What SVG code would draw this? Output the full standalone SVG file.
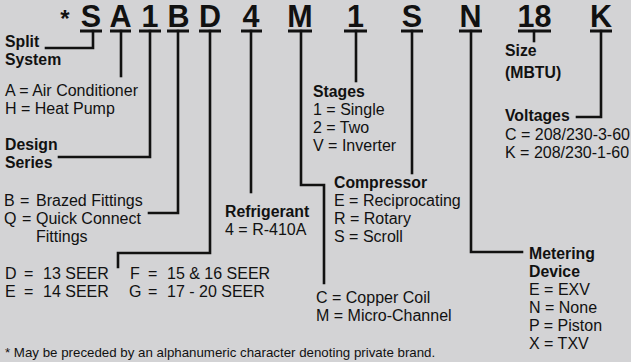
<svg xmlns="http://www.w3.org/2000/svg" width="631" height="362" viewBox="0 0 631 362">
<style>
.bg{fill:#d3d3d5}
.code{font-family:"Liberation Sans",Arial,sans-serif;font-weight:bold;font-size:30.5px;fill:#111;text-anchor:middle}
.t{font-family:"Liberation Sans",Arial,sans-serif;font-size:16px;fill:#111}
.b{font-family:"Liberation Sans",Arial,sans-serif;font-size:15.8px;font-weight:bold;fill:#111}
.fn{font-family:"Liberation Sans",Arial,sans-serif;font-size:13.3px;fill:#111}
.ul{stroke:#111;stroke-width:3;fill:none}
.ln{stroke:#111;stroke-width:2.6;fill:none;stroke-linejoin:miter;stroke-linecap:square}
</style>
<rect class="bg" x="0" y="0" width="631" height="362"/>
<g id="code">
<text x="65" y="27" class="code" style="font-size:24px">*</text>
<text x="91" y="27" class="code">S</text>
<text x="120.5" y="27" class="code">A</text>
<text x="150" y="27" class="code">1</text>
<text x="178.5" y="27" class="code">B</text>
<text x="210" y="27" class="code">D</text>
<text x="251" y="27" class="code">4</text>
<text x="300" y="27" class="code">M</text>
<text x="355.5" y="27" class="code">1</text>
<text x="412" y="27" class="code">S</text>
<text x="470.5" y="27" class="code">N</text>
<text x="534.5" y="27" class="code">18</text>
<text x="601" y="27" class="code">K</text>
<path class="ul" d="M80 31H102M110 31H131M139 31H161M167 31H189M199 31H221M241 31H262M288 31H312M344 31H367M401 31H423M459 31H482M518 31H551M590 31H612"/>
</g>
<g id="connectors">
<path class="ln" d="M93 31V48H46"/>
<path class="ln" d="M121 31V76"/>
<path class="ln" d="M150 31V157H59"/>
<path class="ln" d="M178 31V213H149"/>
<path class="ln" d="M210 31V253H118V267"/>
<path class="ln" d="M251 31V192"/>
<path class="ln" d="M301 31V185H324V283"/>
<path class="ln" d="M356 31V81"/>
<path class="ln" d="M412 31V173"/>
<path class="ln" d="M471 31V252H522"/>
<path class="ln" d="M534 31V41"/>
<path class="ln" d="M601 31V117H577"/>
</g>
<g id="split-system">
<text x="5" y="47" class="b">Split</text>
<text x="5" y="65" class="b">System</text>
</g>
<g id="type">
<text x="5" y="96" class="t">A = Air Conditioner</text>
<text x="5" y="114" class="t">H = Heat Pump</text>
</g>
<g id="design-series">
<text x="5" y="150" class="b">Design</text>
<text x="5" y="168" class="b">Series</text>
</g>
<g id="fittings">
<text y="206" class="t"><tspan x="4">B</tspan><tspan x="20">=</tspan><tspan x="36">Brazed Fittings</tspan></text>
<text y="224" class="t"><tspan x="4">Q</tspan><tspan x="22">=</tspan><tspan x="36">Quick Connect</tspan></text>
<text x="36" y="242" class="t">Fittings</text>
</g>
<g id="seer">
<text y="279" class="t"><tspan x="5">D</tspan><tspan x="24">=</tspan><tspan x="43">13 SEER</tspan><tspan x="130">F</tspan><tspan x="148">=</tspan><tspan x="167">15 &amp; 16 SEER</tspan></text>
<text y="297" class="t"><tspan x="5">E</tspan><tspan x="24">=</tspan><tspan x="43">14 SEER</tspan><tspan x="129">G</tspan><tspan x="148">=</tspan><tspan x="167">17 - 20 SEER</tspan></text>
</g>
<g id="refrigerant">
<text x="225" y="217" class="b">Refrigerant</text>
<text x="225" y="235" class="t">4 = R-410A</text>
</g>
<g id="coil">
<text x="316" y="303" class="t">C = Copper Coil</text>
<text x="316" y="321" class="t">M = Micro-Channel</text>
</g>
<g id="stages">
<text x="313" y="97" class="b">Stages</text>
<text x="313" y="115" class="t">1 = Single</text>
<text x="313" y="133" class="t">2 = Two</text>
<text x="313" y="151" class="t">V = Inverter</text>
</g>
<g id="compressor">
<text x="334" y="188" class="b">Compressor</text>
<text x="334" y="206" class="t">E = Reciprocating</text>
<text x="334" y="224" class="t">R = Rotary</text>
<text x="334" y="242" class="t">S = Scroll</text>
</g>
<g id="metering">
<text x="529" y="259" class="b">Metering</text>
<text x="529" y="277" class="b">Device</text>
<text x="529" y="295" class="t">E = EXV</text>
<text x="529" y="313" class="t">N = None</text>
<text x="529" y="331" class="t">P = Piston</text>
<text x="529" y="349" class="t">X = TXV</text>
</g>
<g id="size">
<text x="505" y="56" class="b">Size</text>
<text x="505" y="78" class="b">(MBTU)</text>
</g>
<g id="voltages">
<text x="505" y="121" class="b">Voltages</text>
<text x="505" y="140" class="t">C = 208/230-3-60</text>
<text x="505" y="158" class="t">K = 208/230-1-60</text>
</g>
<g id="footnote">
<text x="5" y="357" class="fn">* May be preceded by an alphanumeric character denoting private brand.</text>
</g>
</svg>
